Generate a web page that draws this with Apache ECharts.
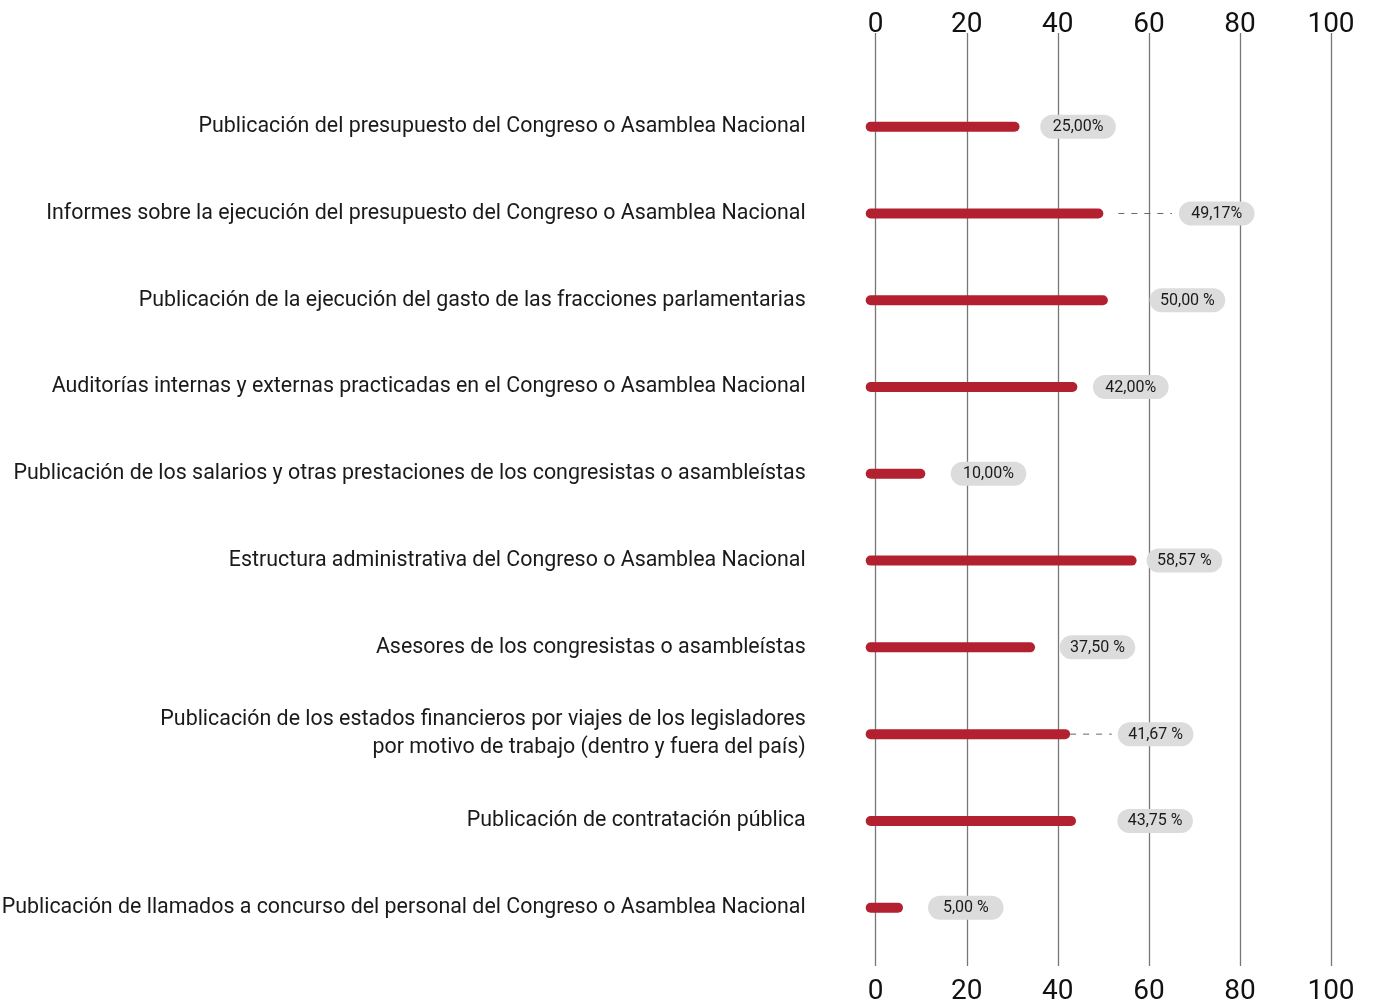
<!DOCTYPE html>
<html>
<head>
<meta charset="utf-8">
<script src="https://cdn.jsdelivr.net/npm/echarts@6/dist/echarts.min.js"></script>
<style>
html,body{margin:0;padding:0;background:#fff;}
#chart{width:1373px;height:1006px;}
</style>
</head>
<body>
<div id="chart"></div>
<script>
// ---- data ----
const categories = [
  'Publicación del presupuesto del Congreso o Asamblea Nacional',
  'Informes sobre la ejecución del presupuesto del Congreso o Asamblea Nacional',
  'Publicación de la ejecución del gasto de las fracciones parlamentarias',
  'Auditorías internas y externas practicadas en el Congreso o Asamblea Nacional',
  'Publicación de los salarios y otras prestaciones de los congresistas o asambleístas',
  'Estructura administrativa del Congreso o Asamblea Nacional',
  'Asesores de los congresistas o asambleístas',
  'Publicación de los estados financieros por viajes de los legisladores\npor motivo de trabajo (dentro y fuera del país)',
  'Publicación de contratación pública',
  'Publicación de llamados a concurso del personal del Congreso o Asamblea Nacional'
];
const barValues = [30.5, 48.9, 49.9, 43.2, 9.8, 56.2, 33.9, 41.6, 42.9, 4.9];
const valueLabels = ['25,00%', '49,17%', '50,00 %', '42,00%', '10,00%', '58,57 %', '37,50 %', '41,67 %', '43,75 %', '5,00 %'];
const tickLabels = ['0', '20', '40', '60', '80', '100'];

// ---- layout (pixels) ----
const pillGap = [20.7, 75.6, 41.7, 15.6, 25.4, 10, 24.6, 47.7, 41.3, 25];
const connectors = {1: [15, 7], 7: [0, 6]};

const FONT = 'Roboto, sans-serif';
const RED = '#b3202f';

const chart = echarts.init(document.getElementById('chart'));
const axisLabelStyle = {
  fontFamily: FONT, fontSize: 28, color: '#111',
  formatter: function (v) { return tickLabels[Math.round(v / 20)]; }
};
const option = {
  animation: false,
  grid: [
    {left: 875.7, right: 42, top: 33, bottom: 40, outerBoundsMode: 'none', containLabel: false},
    {left: 875.7, right: 42, top: 83.3, height: 867.8, outerBoundsMode: 'none', containLabel: false}
  ],
  xAxis: [
    {gridIndex: 0, type: 'value', position: 'top', min: 0, max: 100, interval: 20,
     axisLine: {show: false}, axisTick: {show: false},
     splitLine: {show: true, lineStyle: {color: '#777', width: 1.3}},
     axisLabel: Object.assign({margin: -6}, axisLabelStyle)},
    {gridIndex: 0, type: 'value', position: 'bottom', min: 0, max: 100, interval: 20,
     axisLine: {show: false}, axisTick: {show: false}, splitLine: {show: false},
     axisLabel: Object.assign({margin: 12}, axisLabelStyle)},
    {gridIndex: 1, type: 'value', min: 0, max: 100, show: false}
  ],
  yAxis: [
    {gridIndex: 0, type: 'value', show: false},
    {gridIndex: 1, type: 'category', inverse: true, data: categories,
     axisLine: {show: false}, axisTick: {show: false}, splitLine: {show: false},
     axisLabel: {margin: 70, fontFamily: FONT, fontSize: 21.4, color: '#1a1a1a',
                 align: 'right', lineHeight: 28}}
  ],
  series: [{
    type: 'custom',
    xAxisIndex: 2, yAxisIndex: 1,
    data: barValues.map(function (v, i) { return [v, i]; }),
    encode: {x: 0, y: 1},
    renderItem: function (params, api) {
      const i = params.dataIndex;
      const v = api.value(0);
      const p0 = api.coord([0, i]);
      const p1 = api.coord([v, i]);
      const y = p0[1];
      const x0 = p0[0] - 10;
      const x1 = p1[0] + 5;
      const pillW = 75.6, pillH = 24;
      const pl = x1 + pillGap[i];
      const children = [
        {type: 'rect', shape: {x: x0, y: y - 5, width: x1 - x0, height: 10, r: 5},
         style: {fill: RED}},
        {type: 'rect', shape: {x: pl, y: y - pillH / 2, width: pillW, height: pillH, r: 12},
         style: {fill: '#dcdcdc'}},
        {type: 'text', x: pl + pillW / 2, y: y + 0.5,
         style: {text: valueLabels[i], fill: '#1a1a1a', font: '16px ' + FONT,
                 align: 'center', verticalAlign: 'middle'}}
      ];
      const c = connectors[i];
      if (c) {
        children.unshift({type: 'line',
          shape: {x1: x1 + c[0], y1: y, x2: pl - c[1], y2: y},
          style: {stroke: '#666', lineWidth: 1, lineDash: [6, 7]}});
      }
      return {type: 'group', children: children};
    }
  }]
};
chart.setOption(option);
</script>
</body>
</html>
